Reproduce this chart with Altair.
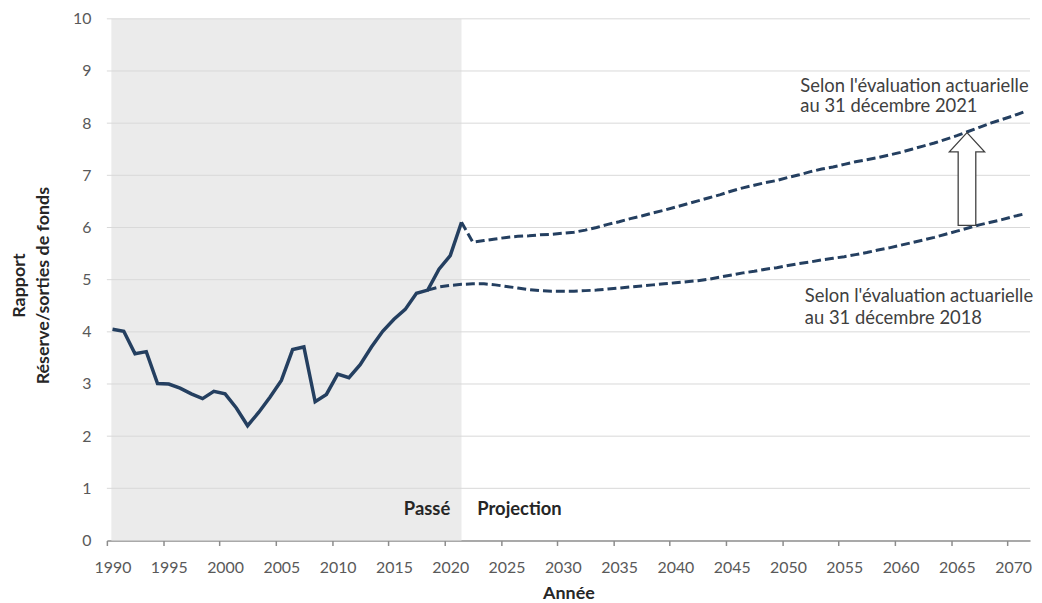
import altair as alt
import pandas as pd

# ---------------- data ----------------
hist_years = list(range(1990, 2022))
hist_values = [4.05, 4.01, 3.58, 3.62, 3.01, 3.00, 2.92, 2.81, 2.72, 2.86,
               2.81, 2.54, 2.20, 2.46, 2.75, 3.07, 3.66, 3.71, 2.66, 2.80,
               3.19, 3.12, 3.37, 3.71, 4.01, 4.24, 4.43, 4.74, 4.80, 5.20,
               5.46, 6.10]

proj2021_years = list(range(2021, 2072))
proj2021_values = [6.10, 5.72, 5.75, 5.78, 5.81, 5.83, 5.84, 5.86, 5.87, 5.89,
                   5.91, 5.95, 6.00, 6.06, 6.11, 6.17, 6.22, 6.28, 6.33, 6.39,
                   6.45, 6.51, 6.57, 6.63, 6.70, 6.76, 6.81, 6.86, 6.90, 6.96,
                   7.01, 7.07, 7.12, 7.16, 7.21, 7.26, 7.30, 7.34, 7.39, 7.44,
                   7.50, 7.56, 7.62, 7.69, 7.76, 7.84, 7.92, 8.00, 8.07, 8.14,
                   8.22]

proj2018_years = list(range(2018, 2072))
proj2018_values = [4.80, 4.86, 4.89, 4.91, 4.92, 4.92, 4.90, 4.87,
                   4.84, 4.81, 4.79, 4.78, 4.78, 4.78, 4.79, 4.80, 4.82, 4.84,
                   4.86, 4.88, 4.90, 4.92, 4.94, 4.96, 4.98, 5.01, 5.05, 5.09,
                   5.13, 5.16, 5.20, 5.23, 5.27, 5.31, 5.34, 5.38, 5.41, 5.44,
                   5.48, 5.52, 5.57, 5.61, 5.66, 5.71, 5.76, 5.81, 5.87, 5.93,
                   5.99, 6.05, 6.10, 6.15, 6.21, 6.26]

x_tick_years = list(range(1990, 2071, 5))
y_tick_values = list(range(0, 11))
y_grid_values = list(range(1, 11))

shade_start = [1989.9]
shade_end = [2021]

note_years = [2051.1, 2051.1, 2051.5, 2051.5]
note_values = [8.71, 8.33, 4.69, 4.27]
note_texts = ["Selon l'évaluation actuarielle", "au 31 décembre 2021",
              "Selon l'évaluation actuarielle", "au 31 décembre 2018"]

period_years = [2020.0, 2022.4]
period_values = [0.60, 0.60]
period_texts = ["Passé", "Projection"]
period_aligns = ["right", "left"]

arrow_year = [2065.9]
arrow_mid = [6.93]

# ---------------- style ----------------
FONT = "Lato"
NAVY = "#243F60"
W, H = 929, 525
X_DOMAIN = [1989.5, 2071.5]
HALF = W / (X_DOMAIN[1] - X_DOMAIN[0]) / 2
ARROW = "M0,-1L0.38,-0.586L0.19,-0.586L0.19,1L-0.19,1L-0.19,-0.586L-0.38,-0.586Z"

x_scale = alt.Scale(domain=X_DOMAIN, nice=False, zero=False)
y_scale = alt.Scale(domain=[0, 10], nice=False, zero=True)

x_axis = alt.Axis(
    values=x_tick_years, format="d", title="Année", grid=False,
    tickOffset=-HALF, labelOffset=HALF, labelFlush=False, labelOverlap=False,
    domainColor="#8c8c8c", domainWidth=1.5, tickColor="#8c8c8c", tickWidth=1.5,
    tickSize=5, labelFont=FONT, labelFontSize=16, labelColor="#595959",
    labelPadding=14, titleFont=FONT, titleFontSize=18, titleFontWeight="bold",
    titleColor="#262626", titlePadding=9,
)
y_axis = alt.Axis(
    values=y_tick_values, format="d", grid=False, ticks=False, domain=False,
    labelFont=FONT, labelFontSize=16, labelColor="#595959", labelPadding=16,
    title=["Rapport", "Réserve/sorties de fonds"], titleFont=FONT,
    titleFontSize=18, titleFontWeight="bold", titleColor="#262626",
    titleAngle=270, titleX=-87.5, titleY=268, titleAlign="center",
    titleBaseline="middle", titleLineHeight=24,
)


def X(field):
    return alt.X(field, scale=x_scale, axis=x_axis)


def Y(field):
    return alt.Y(field, scale=y_scale, axis=y_axis)


shade_df = pd.DataFrame({"start": shade_start, "end": shade_end, "lo": [0], "hi": [10]})
shade = alt.Chart(shade_df).mark_rect(color="#ebebeb").encode(
    x=X("start:Q"), x2="end:Q", y=Y("lo:Q"), y2="hi:Q",
)

grid = alt.Chart(pd.DataFrame({"v": y_grid_values})).mark_rule(
    color="#d9d9d9", strokeWidth=1
).encode(y=Y("v:Q"))

hist = alt.Chart(pd.DataFrame({"year": hist_years, "value": hist_values})).mark_line(
    color=NAVY, strokeWidth=3.5
).encode(x=X("year:Q"), y=Y("value:Q"))

p21 = alt.Chart(pd.DataFrame({"year": proj2021_years, "value": proj2021_values})).mark_line(
    color=NAVY, strokeWidth=3, strokeDash=[9, 4]
).encode(x=X("year:Q"), y=Y("value:Q"))

p18 = alt.Chart(pd.DataFrame({"year": proj2018_years, "value": proj2018_values})).mark_line(
    color=NAVY, strokeWidth=3, strokeDash=[9, 4]
).encode(x=X("year:Q"), y=Y("value:Q"))

notes = alt.Chart(pd.DataFrame({"year": note_years, "value": note_values, "t": note_texts})).mark_text(
    font=FONT, fontSize=18.5, color="#404040", align="left", baseline="middle"
).encode(x=X("year:Q"), y=Y("value:Q"), text="t:N")

period_df = pd.DataFrame({"year": period_years, "value": period_values, "t": period_texts, "a": period_aligns})
passe = alt.Chart(period_df[period_df.a == "right"]).mark_text(
    font=FONT, fontSize=18.5, fontWeight="bold", color="#262626", align="right", baseline="middle"
).encode(x=X("year:Q"), y=Y("value:Q"), text="t:N")
proj = alt.Chart(period_df[period_df.a == "left"]).mark_text(
    font=FONT, fontSize=18.5, fontWeight="bold", color="#262626", align="left", baseline="middle"
).encode(x=X("year:Q"), y=Y("value:Q"), text="t:N")

arrow = alt.Chart(pd.DataFrame({"year": arrow_year, "value": arrow_mid})).mark_point(
    shape=ARROW, size=8705, filled=True, fill="white", stroke="#404040",
    strokeWidth=1.3, opacity=1
).encode(x=X("year:Q"), y=Y("value:Q"))

chart = alt.layer(shade, grid, hist, p21, p18, notes, passe, proj, arrow).properties(
    width=W, height=H,
    autosize=alt.AutoSizeParams(type="none"),
    padding={"left": 99.5, "top": 9, "right": 4, "bottom": 60},
    background="white",
).configure_view(stroke=None)

chart.save("out.html", embed_options={"renderer": "svg", "actions": False})
